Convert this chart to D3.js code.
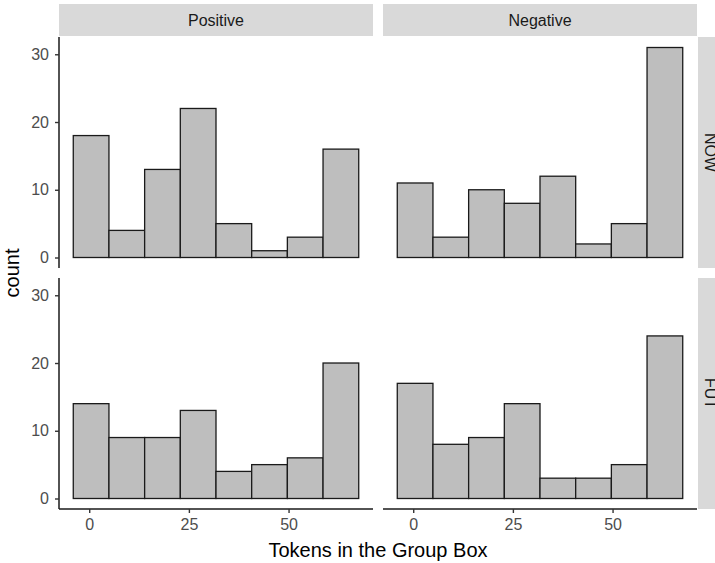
<!DOCTYPE html>
<html lang="en">
<head>
    <meta charset="UTF-8">
    <title>Tokens in the Group Box - histogram facets</title>
    <script src="https://d3js.org/d3.v7.min.js"></script>
    <style>
        body { margin: 0; background: #fff; }
        svg { display: block; font-family: "Liberation Sans", Arial, sans-serif; }
    </style>
</head>
<body>
    <svg id="Token_Hist" width="715" height="563"></svg>
    <script>
        // facet labels
        const colLabels = ["Positive", "Negative"];
        const rowLabels = ["NOW", "FUT"];

        // histogram bin edges (8 bins)
        const binEdges = [-4, 4.95, 13.9, 22.85, 31.8, 40.75, 49.7, 58.65, 67.6];

        // counts per bin, one array per panel
        const nowPositive = [18, 4, 13, 22, 5, 1, 3, 16];
        const nowNegative = [11, 3, 10, 8, 12, 2, 5, 31];
        const futPositive = [14, 9, 9, 13, 4, 5, 6, 20];
        const futNegative = [17, 8, 9, 14, 3, 3, 5, 24];

        const xTicks = [0, 25, 50];
        const yTicks = [0, 10, 20, 30];

        const panelCounts = [
            [nowPositive, nowNegative],
            [futPositive, futNegative]
        ];

        const svg = d3.select("#Token_Hist");

        const panelW = 314, panelH = 231;
        const colX = [59, 383];
        const rowY = [37, 278];
        const stripH = 32, stripW = 25;
        const tickFont = 16, titleFont = 20;

        // x scale with 5% expansion of the bin range
        const xMin = binEdges[0], xMax = binEdges[binEdges.length - 1];
        const xPad = (xMax - xMin) * 0.05;
        const x = d3.scaleLinear()
            .domain([xMin - xPad, xMax + xPad])
            .range([0, panelW]);

        const yMax = d3.max(panelCounts.flat(2));
        const yPad = yMax * 0.05;
        const y = d3.scaleLinear()
            .domain([-yPad, yMax + yPad])
            .range([panelH, 0]);

        // column strips
        colLabels.forEach((lab, c) => {
            svg.append("rect")
                .attr("x", colX[c]).attr("y", rowY[0] - stripH - 1)
                .attr("width", panelW).attr("height", stripH)
                .attr("fill", "#D9D9D9");
            svg.append("text")
                .attr("x", colX[c] + panelW / 2).attr("y", rowY[0] - 1 - stripH / 2)
                .attr("text-anchor", "middle").attr("dominant-baseline", "central")
                .attr("font-size", tickFont).attr("fill", "#1A1A1A")
                .text(lab);
        });

        // row strips (partly outside the window, as in the original)
        rowLabels.forEach((lab, r) => {
            const sx = colX[1] + panelW + 1;
            svg.append("rect")
                .attr("x", sx).attr("y", rowY[r])
                .attr("width", stripW).attr("height", panelH)
                .attr("fill", "#D9D9D9");
            svg.append("text")
                .attr("transform", `translate(${sx + stripW / 2},${rowY[r] + panelH / 2}) rotate(90)`)
                .attr("text-anchor", "middle").attr("dominant-baseline", "central")
                .attr("font-size", tickFont).attr("fill", "#1A1A1A")
                .text(lab);
        });

        // panels
        rowLabels.forEach((rl, r) => {
            colLabels.forEach((cl, c) => {
                const g = svg.append("g")
                    .attr("transform", `translate(${colX[c]},${rowY[r]})`);

                const bins = panelCounts[r][c].map((n, i) => ({
                    x0: binEdges[i], x1: binEdges[i + 1], n: n
                }));

                g.selectAll("rect.bar")
                    .data(bins)
                    .join("rect")
                    .attr("class", "bar")
                    .attr("x", d => x(d.x0))
                    .attr("width", d => x(d.x1) - x(d.x0))
                    .attr("y", d => y(d.n))
                    .attr("height", d => y(0) - y(d.n))
                    .attr("fill", "#BEBEBE")
                    .attr("stroke", "#1A1A1A")
                    .attr("stroke-width", 1.3);

                if (c === 0) {
                    const ya = g.append("g")
                        .call(d3.axisLeft(y).tickValues(yTicks).tickSize(4).tickPadding(6));
                    ya.select(".domain").attr("stroke", "#1A1A1A").attr("stroke-width", 1.5)
                        .attr("d", `M0,0V${panelH}`);
                    ya.selectAll(".tick line").attr("stroke", "#333").attr("stroke-width", 1.4);
                    ya.selectAll(".tick text")
                        .attr("font-size", tickFont).attr("fill", "#4D4D4D")
                        .attr("font-family", "Liberation Sans, Arial, sans-serif");
                }

                if (r === 1) {
                    const xa = g.append("g")
                        .attr("transform", `translate(0,${panelH})`)
                        .call(d3.axisBottom(x).tickValues(xTicks).tickSize(4).tickPadding(6));
                    xa.select(".domain").attr("stroke", "#1A1A1A").attr("stroke-width", 1.5)
                        .attr("d", `M0,0H${panelW}`);
                    xa.selectAll(".tick line").attr("stroke", "#333").attr("stroke-width", 1.4);
                    xa.selectAll(".tick text")
                        .attr("font-size", tickFont).attr("fill", "#4D4D4D")
                        .attr("font-family", "Liberation Sans, Arial, sans-serif");
                }
            });
        });

        // axis titles
        svg.append("text")
            .attr("x", (colX[0] + colX[1] + panelW) / 2).attr("y", 557)
            .attr("text-anchor", "middle")
            .attr("font-size", titleFont).attr("fill", "#000")
            .text("Tokens in the Group Box");

        svg.append("text")
            .attr("transform", `translate(19,${(rowY[0] + rowY[1] + panelH) / 2}) rotate(-90)`)
            .attr("text-anchor", "middle")
            .attr("font-size", titleFont).attr("fill", "#000")
            .text("count");
    </script>
</body>
</html>
